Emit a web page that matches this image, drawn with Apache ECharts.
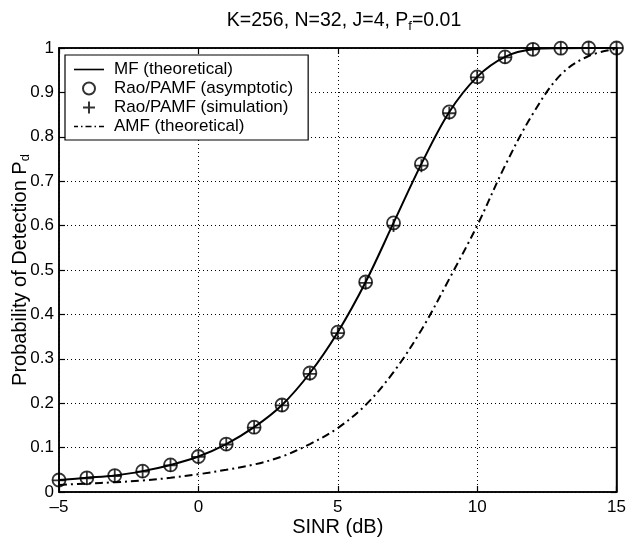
<!DOCTYPE html>
<html>
<head>
<meta charset="utf-8">
<script src="https://cdn.jsdelivr.net/npm/echarts@6/dist/echarts.min.js"></script>
<style>html,body{margin:0;padding:0;background:#fff}#c{width:629px;height:542px}</style>
</head>
<body>
<div id="c"></div>
<script>
const sinr      = [-5, -4, -3, -2, -1, 0, 1, 2, 3, 4, 5, 6, 7, 8, 9, 10, 11, 12, 13, 14, 15];
const mfPd      = [0.027, 0.032, 0.037, 0.047, 0.061, 0.080, 0.108, 0.146, 0.196, 0.268, 0.360, 0.473, 0.606, 0.739, 0.856, 0.935, 0.980, 0.997, 0.9995, 1.0, 1.0];
const raoAsymPd = [0.027, 0.032, 0.037, 0.047, 0.061, 0.080, 0.108, 0.146, 0.196, 0.268, 0.360, 0.473, 0.606, 0.739, 0.856, 0.935, 0.980, 0.997, 0.9995, 1.0, 1.0];
const raoSimPd  = [0.026, 0.031, 0.036, 0.046, 0.060, 0.079, 0.107, 0.145, 0.195, 0.266, 0.358, 0.471, 0.600, 0.735, 0.853, 0.934, 0.979, 0.997, 0.9995, 1.0, 1.0];
const amfPd     = [0.016, 0.019, 0.022, 0.026, 0.032, 0.040, 0.050, 0.062, 0.080, 0.108, 0.144, 0.196, 0.270, 0.365, 0.480, 0.600, 0.735, 0.852, 0.940, 0.982, 0.998];
const xTicks = [-5, 0, 5, 10, 15];
const yTicks = [0, 0.1, 0.2, 0.3, 0.4, 0.5, 0.6, 0.7, 0.8, 0.9, 1];
const seriesNames = ['MF (theoretical)', 'Rao/PAMF (asymptotic)', 'Rao/PAMF (simulation)', 'AMF (theoretical)'];

const pairs = (ys) => sinr.map((x, i) => [x, ys[i]]);
const FONT = 'Liberation Sans, Arial, Helvetica, sans-serif';
const plusPath = 'path://M6,0 L6,12 M0,6 L12,6';
const solidIcon = 'path://M0,0 H30 V1.6 H0 Z';
const dashDotIcon = 'path://M0,0 H4 V1.6 H0 Z M7,0 H8.5 V1.6 H7 Z M11.5,0 H17.5 V1.6 H11.5 Z M20.5,0 H22 V1.6 H20.5 Z M25,0 H30 V1.6 H25 Z';

const chart = echarts.init(document.getElementById('c'), null, {renderer: 'canvas'});
chart.setOption({
  animation: false,
  backgroundColor: '#fff',
  textStyle: {fontFamily: FONT, color: '#000'},
  title: {
    text: 'K=256, N=32, J=4, P{sub|f}=0.01',
    left: 339, top: 4, textAlign: 'center',
    textStyle: {fontFamily: FONT, fontSize: 19.5, fontWeight: 'normal', color: '#000',
      rich: {sub: {fontFamily: FONT, fontSize: 13, color: '#000', padding: [11, 0, 0, 0]}}}
  },
  grid: {left: 59, right: 10, top: 48, bottom: 50, show: true, borderColor: '#000', borderWidth: 1.5, backgroundColor: 'transparent'},
  legend: {
    orient: 'vertical', left: 65, top: 55,
    backgroundColor: '#fff', borderColor: '#000', borderWidth: 1.2,
    padding: [6, 15, 5, 9], itemGap: 2, itemWidth: 30, itemHeight: 12,
    textStyle: {fontFamily: FONT, fontSize: 17, color: '#000', padding: [0, 0, 0, 5]},
    data: [
      {name: seriesNames[0], icon: solidIcon},
      {name: seriesNames[1]},
      {name: seriesNames[2]},
      {name: seriesNames[3], icon: dashDotIcon}
    ]
  },
  xAxis: [{
    type: 'value', min: xTicks[0], max: xTicks[xTicks.length - 1], interval: 5,
    name: 'SINR (dB)', nameLocation: 'middle', nameGap: 25, nameMoveOverlap: false,
    nameTextStyle: {fontFamily: FONT, fontSize: 20, color: '#000'},
    axisLine: {show: true, onZero: false, lineStyle: {color: '#000', width: 1.5}},
    axisTick: {show: true, inside: true, length: 6, lineStyle: {color: '#000', width: 1.2}},
    axisLabel: {fontFamily: FONT, fontSize: 17, color: '#000', margin: 7,
      formatter: v => String(v).replace('-', '\u2013')},
    splitLine: {show: true, lineStyle: {color: '#000', width: 1, type: [1, 3]}}
  }, {
    type: 'value', position: 'top', min: xTicks[0], max: xTicks[xTicks.length - 1], interval: 5,
    axisLine: {show: true, onZero: false, lineStyle: {color: '#000', width: 1.5}},
    axisTick: {show: true, inside: true, length: 6, lineStyle: {color: '#000', width: 1.2}},
    axisLabel: {show: false}, splitLine: {show: false}
  }],
  yAxis: [{
    type: 'value', min: yTicks[0], max: yTicks[yTicks.length - 1], interval: 0.1,
    name: 'Probability of Detection P{sub|d}', nameLocation: 'middle', nameGap: 27, nameMoveOverlap: false,
    nameTextStyle: {fontFamily: FONT, fontSize: 20, color: '#000',
      rich: {sub: {fontFamily: FONT, fontSize: 13, color: '#000', padding: [11, 0, 0, 0]}}},
    axisLine: {show: true, onZero: false, lineStyle: {color: '#000', width: 1.5}},
    axisTick: {show: true, inside: true, length: 6, lineStyle: {color: '#000', width: 1.2}},
    axisLabel: {fontFamily: FONT, fontSize: 17, color: '#000', margin: 5,
      formatter: v => (Math.abs(v) < 1e-9 ? '0' : (Math.abs(v - 1) < 1e-9 ? '1' : v.toFixed(1)))},
    splitLine: {show: true, lineStyle: {color: '#000', width: 1, type: [1, 3]}}
  }, {
    type: 'value', position: 'right', min: yTicks[0], max: yTicks[yTicks.length - 1], interval: 0.1,
    axisLine: {show: true, onZero: false, lineStyle: {color: '#000', width: 1.5}},
    axisTick: {show: true, inside: true, length: 6, lineStyle: {color: '#000', width: 1.2}},
    axisLabel: {show: false}, splitLine: {show: false}
  }],
  series: [{
    name: seriesNames[0], type: 'line', data: pairs(mfPd), symbol: 'none', smooth: 0.35,
    lineStyle: {color: '#000', width: 2}, itemStyle: {color: '#000'}, z: 3
  }, {
    name: seriesNames[1], type: 'scatter', data: pairs(raoAsymPd), symbol: 'circle', symbolSize: 13,
    itemStyle: {color: 'rgba(0,0,0,0)', borderColor: '#000', borderWidth: 1.8}, z: 4
  }, {
    name: seriesNames[2], type: 'scatter', data: pairs(raoSimPd), symbol: plusPath, symbolSize: 13,
    itemStyle: {color: 'rgba(0,0,0,0)', borderColor: '#000', borderWidth: 1.8}, z: 4
  }, {
    name: seriesNames[3], type: 'line', data: pairs(amfPd), symbol: 'none', smooth: 0.35,
    lineStyle: {color: '#000', width: 2, type: [8, 4, 2, 4]}, itemStyle: {color: '#000'}, z: 3
  }]
});
</script>
</body>
</html>
